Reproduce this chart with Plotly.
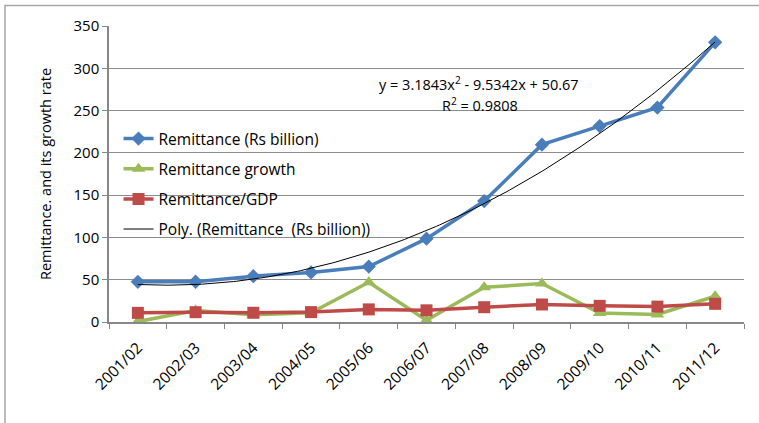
import numpy as np
import plotly.graph_objects as go

categories = ["2001/02", "2002/03", "2003/04", "2004/05", "2005/06", "2006/07",
              "2007/08", "2008/09", "2009/10", "2010/11", "2011/12"]
remittance = [47.5, 47.6, 54.2, 58.6, 65.5, 98.5, 143.0, 209.7, 231.7, 253.6, 330.7]
growth = [0.5, 13.5, 8.5, 11.0, 47.0, 2.0, 41.0, 45.5, 10.5, 9.0, 30.5]
remit_gdp = [10.8, 11.6, 10.9, 11.7, 14.9, 13.8, 17.5, 20.7, 19.1, 18.2, 21.5]
trend_coeffs = [3.1843, -9.5342, 50.67]
eq_text = "y = 3.1843x<sup>2</sup> - 9.5342x + 50.67"
r2_text = "R<sup>2</sup> = 0.9808"
y_ticks = [0, 50, 100, 150, 200, 250, 300, 350]

xpos = list(range(1, len(categories) + 1))
xs = np.linspace(1, len(categories), 200)
trend = np.polyval(trend_coeffs, xs)

FONT = "Open Sans"
fig = go.Figure()
fig.add_trace(go.Scatter(x=xpos, y=remittance, mode="lines+markers",
                         name="Remittance (Rs billion)", legendgroup="a",
                         line=dict(color="#4A7EBB", width=3.5),
                         marker=dict(symbol="diamond", size=11, color="#4A7EBB")))
fig.add_trace(go.Scatter(x=xpos, y=growth, mode="lines+markers",
                         name="Remittance growth", legendgroup="b",
                         line=dict(color="#9BBB59", width=3.5),
                         marker=dict(symbol="triangle-up", size=12, color="#9BBB59")))
fig.add_trace(go.Scatter(x=xpos, y=remit_gdp, mode="lines+markers",
                         name="Remittance/GDP", legendgroup="c",
                         line=dict(color="#BE4B48", width=3.5),
                         marker=dict(symbol="square", size=12, color="#BE4B48")))
fig.add_trace(go.Scatter(x=xs, y=trend, mode="lines",
                         name="Poly. (Remittance  (Rs billion))", legendgroup="d",
                         line=dict(color="black", width=1)))

fig.add_annotation(x=6.91, y=282, xref="x", yref="y", text=eq_text, showarrow=False,
                   font=dict(family=FONT, size=14.5, color="black"))
fig.add_annotation(x=6.93, y=257, xref="x", yref="y", text=r2_text, showarrow=False,
                   font=dict(family=FONT, size=14.5, color="black"))

fig.add_shape(type="rect", xref="paper", yref="paper",
              x0=-104/635, x1=1.2, y0=-0.5, y1=(322 - 5.5) / 296,
              line=dict(color="#A6A6A6", width=1.5), fillcolor="rgba(0,0,0,0)", layer="below")

fig.update_layout(
    width=759, height=423,
    margin=dict(l=109, r=15, t=26, b=101),
    paper_bgcolor="white", plot_bgcolor="white",
    font=dict(family=FONT, size=15, color="black"),
    showlegend=True,
    legend=dict(x=0.015, y=(322 - 122) / 296, xanchor="left", yanchor="top",
                bgcolor="rgba(0,0,0,0)", font=dict(family=FONT, size=15.5),
                tracegroupgap=7),
    xaxis=dict(range=[0.5, len(categories) + 0.5], tickmode="array",
               tickvals=xpos, ticktext=categories, tickangle=-45,
               showgrid=False, zeroline=False, showline=True,
               linecolor="#878787", linewidth=1.5, ticks="",
               ticklabelstandoff=9,
               minor=dict(ticks="outside", tick0=0.5, dtick=1, ticklen=5,
                          tickcolor="#878787", showgrid=False),
               tickfont=dict(family=FONT, size=15.5)),
    yaxis=dict(range=[0, 350], tickvals=y_ticks, showgrid=True,
               gridcolor="#8C8C8C", gridwidth=1, zeroline=False,
               showline=True, linecolor="#878787", linewidth=1.5,
               ticks="outside", ticklen=5, tickcolor="#878787",
               title=dict(text="Remittance. and its growth rate",
                          font=dict(family=FONT, size=14.5), standoff=18),
               tickfont=dict(family=FONT, size=15)),
)

fig.write_html("out.html")
